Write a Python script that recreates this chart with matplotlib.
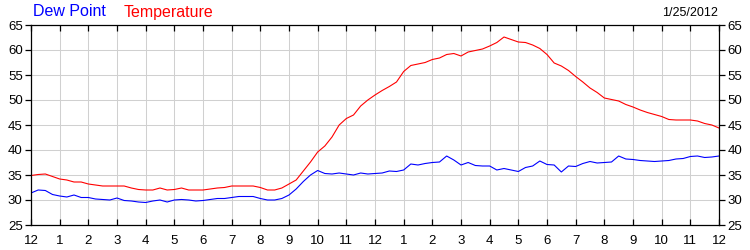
import matplotlib
matplotlib.use("Agg")
import matplotlib.pyplot as plt
import numpy as np

plt.rcParams['font.family'] = ['Liberation Sans', 'DejaVu Sans']

# Hours since midnight (0.25 h steps)
hours = [i * 0.25 for i in range(97)]

temperature = [
    34.9, 35.1, 35.2, 34.7, 34.2, 34.0, 33.6, 33.6, 33.2, 33.0,
    32.8, 32.8, 32.8, 32.8, 32.4, 32.1, 32.0, 32.0, 32.4, 32.0,
    32.1, 32.4, 32.0, 32.0, 32.0, 32.2, 32.4, 32.5, 32.8, 32.8,
    32.8, 32.8, 32.5, 32.0, 32.0, 32.4, 33.2, 34.0, 35.8, 37.6,
    39.6, 40.8, 42.6, 45.0, 46.3, 47.0, 48.8, 50.0, 51.0, 51.9,
    52.7, 53.6, 55.7, 56.9, 57.2, 57.5, 58.1, 58.4, 59.1, 59.3,
    58.8, 59.6, 59.9, 60.2, 60.8, 61.5, 62.6, 62.1, 61.6, 61.5,
    61.0, 60.3, 59.1, 57.4, 56.8, 55.9, 54.7, 53.6, 52.4, 51.5,
    50.4, 50.1, 49.8, 49.1, 48.6, 48.0, 47.5, 47.1, 46.7, 46.1,
    46.0, 46.0, 46.0, 45.8, 45.3, 45.0, 44.4,
]

dew_point = [
    31.4, 32.0, 31.9, 31.1, 30.8, 30.6, 31.0, 30.5, 30.5, 30.2,
    30.1, 30.0, 30.4, 29.9, 29.8, 29.6, 29.5, 29.8, 30.0, 29.6,
    30.0, 30.1, 30.0, 29.8, 29.9, 30.1, 30.3, 30.3, 30.5, 30.7,
    30.7, 30.7, 30.3, 30.0, 30.0, 30.3, 31.0, 32.2, 33.7, 35.0,
    35.9, 35.3, 35.2, 35.4, 35.2, 35.0, 35.4, 35.2, 35.3, 35.4,
    35.8, 35.7, 36.0, 37.2, 37.0, 37.3, 37.5, 37.6, 38.8, 38.0,
    37.0, 37.5, 36.9, 36.8, 36.8, 36.0, 36.3, 36.0, 35.7, 36.5,
    36.8, 37.8, 37.1, 37.0, 35.6, 36.8, 36.7, 37.3, 37.7, 37.4,
    37.5, 37.6, 38.8, 38.2, 38.1, 37.9, 37.8, 37.7, 37.8, 37.9,
    38.2, 38.3, 38.7, 38.8, 38.5, 38.6, 38.8,
]

x_tick_labels = ['12', '1', '2', '3', '4', '5', '6', '7', '8', '9', '10', '11',
                 '12', '1', '2', '3', '4', '5', '6', '7', '8', '9', '10', '11', '12']
y_ticks = [25, 30, 35, 40, 45, 50, 55, 60, 65]
date_label = '1/25/2012'

fig = plt.figure(figsize=(7.5, 2.5), dpi=100)
ax = fig.add_axes([31 / 750, 25 / 250, (719 - 31) / 750, 200 / 250])

ax.plot(hours, temperature, color='#ff0000', lw=0.8)
ax.plot(hours, dew_point, color='#0000ff', lw=0.8)

ax.set_xlim(0, 24)
ax.set_ylim(25, 65)
ax.set_xticks(range(25))
ax.set_xticklabels(x_tick_labels)
ax.set_yticks(y_ticks)
ax.grid(True, color='#d0d0d0', lw=0.75)
ax.set_axisbelow(True)

for s in ax.spines.values():
    s.set_color('black')
    s.set_linewidth(0.9)

ax.tick_params(axis='x', which='both', direction='in', top=True, bottom=True,
               length=4, width=0.9, labelsize=9.5, pad=7)
ax.tick_params(axis='y', which='both', direction='out', left=True, right=True,
               labelleft=True, labelright=True, length=4, width=0.9,
               labelsize=9.5, pad=2)

fig.text(33 / 750, 1 - 12 / 250, 'Dew Point', color='#0000ff', fontsize=11.5,
         va='center', ha='left')
fig.text(124 / 750, 1 - 12 / 250, 'Temperature', color='#ff0000', fontsize=11.5,
         va='center', ha='left')
fig.text(718 / 750, 1 - 13 / 250, date_label, color='black', fontsize=9,
         va='center', ha='right')

fig.savefig('out.png', dpi=100)
